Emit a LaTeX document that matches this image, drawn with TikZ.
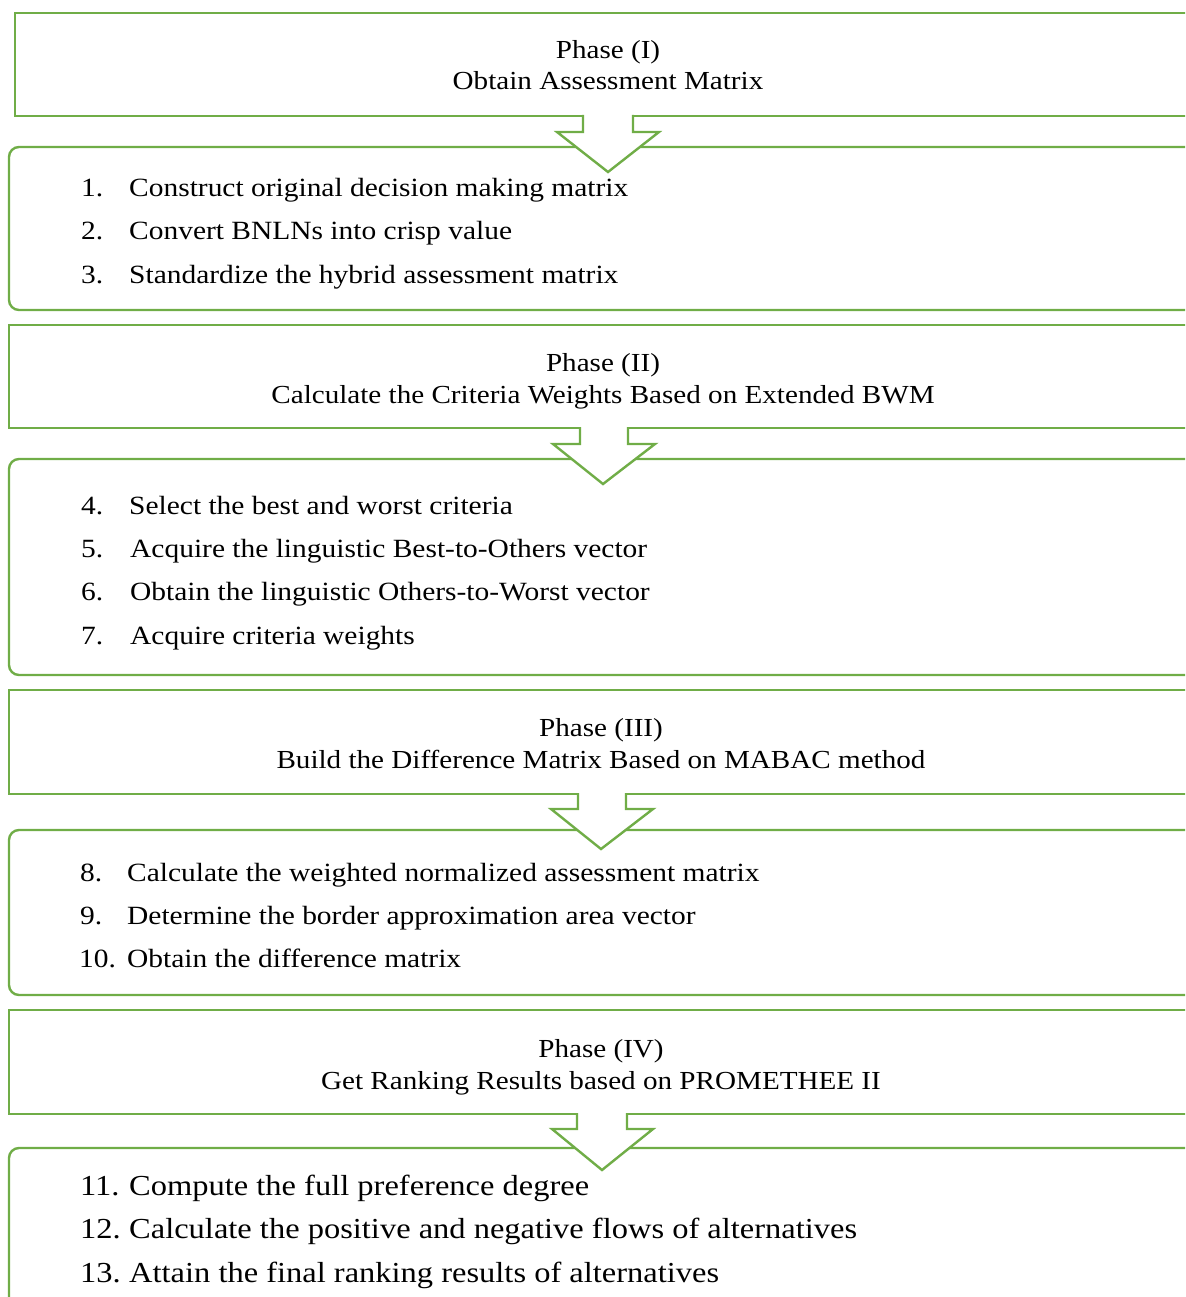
\documentclass[tikz,border=0pt]{standalone}
\usepackage{fontspec}
\setmainfont[FakeStretch=1.12]{Liberation Serif}
\definecolor{boxgreen}{HTML}{70AD47}
\tikzset{
  box/.style={draw=boxgreen, line width=2.4pt},
  stepbox/.style={draw=boxgreen, line width=2.4pt, rounded corners=10pt},
  arrowshape/.style={draw=boxgreen, fill=white, line width=2.4pt, line join=miter},
  phasetext/.style={align=center, font=\fontsize{26}{31}\selectfont, inner sep=0pt, anchor=base},
  itemnum/.style={font=\fontsize{26.3}{30}\selectfont, inner sep=0pt, anchor=base west},
  itemtext/.style={font=\fontsize{26.3}{30}\selectfont, inner sep=0pt, anchor=base west},
  bignum/.style={font=\fontsize{29}{32}\selectfont, inner sep=0pt, anchor=base west},
}
\begin{document}
\begin{tikzpicture}[x=1pt,y=-1pt]
\useasboundingbox (0,0) rectangle (1185,1297);
\clip (0,0) rectangle (1185,1297);
% phase boxes
\draw[box] (1200,13) -- (15,13) -- (15,116) -- (1200,116);
\draw[box] (1200,325) -- (9,325) -- (9,428) -- (1200,428);
\draw[box] (1200,690) -- (9,690) -- (9,794) -- (1200,794);
\draw[box] (1200,1010) -- (9,1010) -- (9,1114) -- (1200,1114);
% step boxes
\draw[stepbox] (1200,147) -- (9,147) -- (9,310) -- (1200,310);
\draw[stepbox] (1200,459) -- (9,459) -- (9,675) -- (1200,675);
\draw[stepbox] (1200,830) -- (9,830) -- (9,995) -- (1200,995);
\draw[stepbox] (1200,1148) -- (9,1148) -- (9,1320);
% arrows
\filldraw[arrowshape] (583,115) -- (583,132) -- (557,132) -- (608,172) -- (659,132) -- (633,132) -- (633,115);
\filldraw[arrowshape] (580,427) -- (580,444) -- (553,444) -- (603,484) -- (655,444) -- (628,444) -- (628,427);
\filldraw[arrowshape] (578,793) -- (578,809) -- (551,809) -- (601,849) -- (653,809) -- (626,809) -- (626,793);
\filldraw[arrowshape] (577,1113) -- (577,1129) -- (552,1129) -- (602,1170) -- (653,1129) -- (627,1129) -- (627,1113);
% phase texts
\node[phasetext] (p1a) at (608,59) {Phase (I)};
\node[phasetext] (p1b) at (608,90) {Obtain Assessment Matrix};
\node[phasetext] (p2a) at (603,371) {Phase (II)};
\node[phasetext] (p2b) at (603,403) {Calculate the Criteria Weights Based on Extended BWM};
\node[phasetext] (p3a) at (601,736) {Phase (III)};
\node[phasetext] (p3b) at (601,768) {Build the Difference Matrix Based on MABAC method};
\node[phasetext] (p4a) at (601,1057) {Phase (IV)};
\node[phasetext] (p4b) at (601,1089) {Get Ranking Results based on PROMETHEE II};
% steps box 1
\node[itemnum] (n1) at (81,197) {1.};
\node[itemtext] (s1) at (129,197) {Construct original decision making matrix};
\node[itemnum] (n2) at (81,240) {2.};
\node[itemtext] (s2) at (129,240) {Convert BNLNs into crisp value};
\node[itemnum] (n3) at (81,283) {3.};
\node[itemtext] (s3) at (129,283) {Standardize the hybrid assessment matrix};
% steps box 2
\node[itemnum] (n4) at (81,514) {4.};
\node[itemtext] (s4) at (129,514) {Select the best and worst criteria};
\node[itemnum] (n5) at (81,557) {5.};
\node[itemtext] (s5) at (130,557) {Acquire the linguistic Best-to-Others vector};
\node[itemnum] (n6) at (81,600) {6.};
\node[itemtext] (s6) at (130,600) {Obtain the linguistic Others-to-Worst vector};
\node[itemnum] (n7) at (81,644) {7.};
\node[itemtext] (s7) at (130,644) {Acquire criteria weights};
% steps box 3
\node[itemnum] (n8) at (80,881) {8.};
\node[itemtext] (s8) at (127,881) {Calculate the weighted normalized assessment matrix};
\node[itemnum] (n9) at (80,924) {9.};
\node[itemtext] (s9) at (127,924) {Determine the border approximation area vector};
\node[itemnum] (n10) at (79,967) {10.};
\node[itemtext] (s10) at (127,967) {Obtain the difference matrix};
% steps box 4
\node[bignum] (n11) at (80,1195) {11.};
\node[bignum] (s11) at (129,1195) {Compute the full preference degree};
\node[bignum] (n12) at (80,1238) {12.};
\node[bignum] (s12) at (129,1238) {Calculate the positive and negative flows of alternatives};
\node[bignum] (n13) at (80,1282) {13.};
\node[bignum] (s13) at (129,1282) {Attain the final ranking results of alternatives};
\end{tikzpicture}
\end{document}
